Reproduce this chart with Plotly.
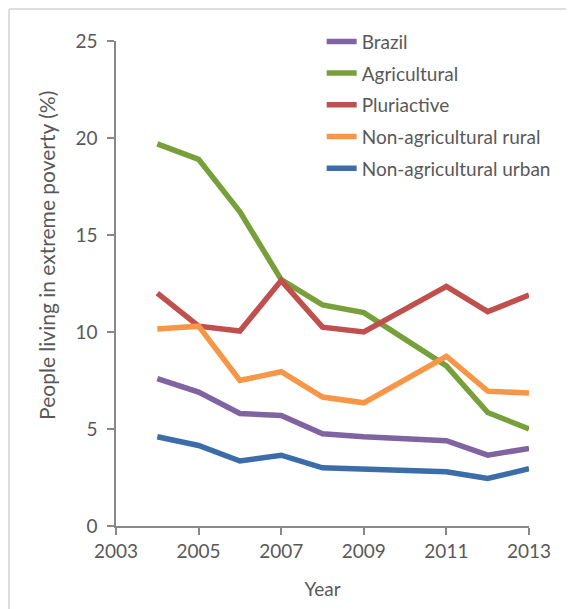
import plotly.graph_objects as go

years = [2004, 2005, 2006, 2007, 2008, 2009, 2011, 2012, 2013]
brazil = [7.6, 6.9, 5.8, 5.7, 4.75, 4.6, 4.4, 3.65, 4.0]
agricultural = [19.7, 18.9, 16.2, 12.7, 11.4, 11.0, 8.25, 5.85, 5.0]
pluriactive = [12.0, 10.3, 10.05, 12.65, 10.25, 10.0, 12.35, 11.05, 11.9]
nonag_rural = [10.15, 10.3, 7.5, 7.95, 6.65, 6.35, 8.75, 6.95, 6.85]
nonag_urban = [4.6, 4.15, 3.35, 3.65, 3.0, 2.95, 2.8, 2.45, 2.95]

series = [
    ("Brazil", brazil, "#8064A2"),
    ("Agricultural", agricultural, "#77A03A"),
    ("Pluriactive", pluriactive, "#C0504D"),
    ("Non-agricultural rural", nonag_rural, "#F79646"),
    ("Non-agricultural urban", nonag_urban, "#3C6DA9"),
]

fig = go.Figure()
for i, (name, vals, col) in enumerate(series):
    fig.add_trace(go.Scatter(
        x=years, y=vals, name=name, mode="lines",
        line=dict(color=col, width=5.5), cliponaxis=False,
        legendgroup=f"g{i}",
    ))

font_family = "Lato, Open Sans, sans-serif"
axis_col = "#888888"
text_col = "#595959"

fig.update_layout(
    width=574, height=609,
    margin=dict(l=108, r=53, t=33, b=91),
    paper_bgcolor="white", plot_bgcolor="white",
    font=dict(family=font_family, color=text_col, size=19),
    showlegend=True,
    legend=dict(
        x=0.498, y=1.038, xanchor="left", yanchor="top",
        bgcolor="rgba(0,0,0,0)", tracegroupgap=4,
        font=dict(size=19, color=text_col),
    ),
    xaxis=dict(
        range=[2003, 2013], tickmode="linear", tick0=2003, dtick=2,
        showgrid=False, zeroline=False, showline=True,
        linecolor=axis_col, linewidth=1.5,
        ticks="outside", ticklen=7, tickcolor=axis_col, tickwidth=1.5,
        tickfont=dict(size=19, color=text_col),
        title=dict(text="Year", font=dict(size=19, color=text_col), standoff=22),
    ),
    yaxis=dict(
        range=[0, 25], tickmode="linear", tick0=0, dtick=5,
        showgrid=False, zeroline=False, showline=True,
        linecolor=axis_col, linewidth=1.5,
        ticks="outside", ticklen=7, tickcolor=axis_col, tickwidth=1.5,
        ticklabelstandoff=6,
        tickfont=dict(size=19, color=text_col),
    ),
    annotations=[
        dict(text="People living in extreme poverty (%)", textangle=-90,
             xref="paper", yref="paper", x=-0.167, y=0.557,
             xanchor="center", yanchor="middle", showarrow=False,
             font=dict(size=21, color=text_col)),
    ],
    shapes=[
        dict(type="line", xref="paper", yref="paper",
             x0=-0.259, x1=1.2, y0=1.066, y1=1.066,
             line=dict(color="#DDDDDD", width=2)),
        dict(type="line", xref="paper", yref="paper",
             x0=-0.259, x1=-0.259, y0=1.066, y1=-0.2,
             line=dict(color="#DDDDDD", width=2)),
    ],
)

fig.write_html("out.html")
